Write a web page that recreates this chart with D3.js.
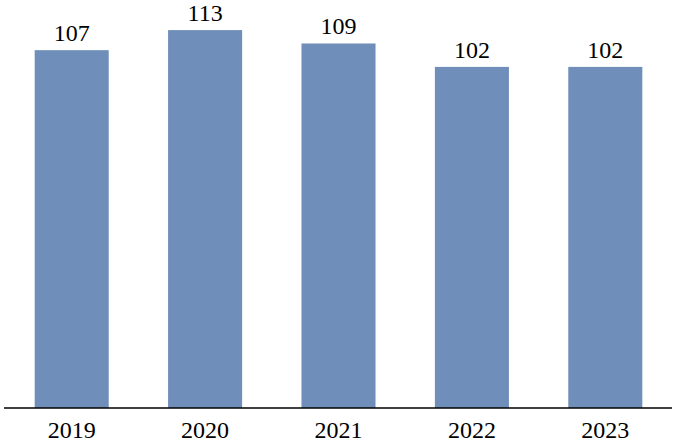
<!DOCTYPE html>
<html>
<head>
<meta charset="utf-8">
<script src="https://cdn.jsdelivr.net/npm/d3@7"></script>
<style>
  body { margin: 0; background: #fff; }
  text { font-family: "Liberation Serif", "Times New Roman", serif; fill: #000; }
</style>
</head>
<body>
<div id="container"></div>
<script>
var years = ['2019', '2020', '2021', '2022', '2023'];
var values = [107, 113, 109, 102, 102];

var width = 685,
    height = 448,
    baseY = 408;

var xScale = d3.scaleBand()
  .domain(years)
  .range([5, 672])
  .paddingInner(0.445)
  .paddingOuter(0.2225);

var yScale = d3.scaleLinear()
  .domain([0, 122])
  .range([baseY, 0]);

var svg = d3.select('#container').append('svg')
  .attr('width', width)
  .attr('height', height);

svg.selectAll('rect').data(values)
  .enter().append('rect')
    .attr('x', function(d, i) { return xScale(years[i]); })
    .attr('y', function(d) { return yScale(d); })
    .attr('width', xScale.bandwidth())
    .attr('height', function(d) { return baseY - yScale(d); })
    .style('fill', '#6f8eb9');

// value labels
svg.selectAll('.val').data(values)
  .enter().append('text')
    .attr('class', 'val')
    .attr('x', function(d, i) { return xScale(years[i]) + xScale.bandwidth() / 2; })
    .attr('y', function(d) { return yScale(d) - 9; })
    .attr('text-anchor', 'middle')
    .style('font-size', '24px')
    .text(function(d) { return d; });

// x axis
var xAxis = d3.axisBottom(xScale).tickSize(0).tickPadding(0);
var gx = svg.append('g')
  .attr('transform', 'translate(0,' + baseY + ')')
  .call(xAxis);
gx.select('.domain').remove();
gx.append('line')
  .attr('x1', 4).attr('x2', 672)
  .attr('stroke', '#000').attr('stroke-width', 1.5);
gx.selectAll('.tick text')
  .attr('dy', null)
  .attr('y', 30)
  .style('font-size', '24px')
  .style('font-family', '"Liberation Serif", serif')
  .attr('fill', '#000');
</script>
</body>
</html>
